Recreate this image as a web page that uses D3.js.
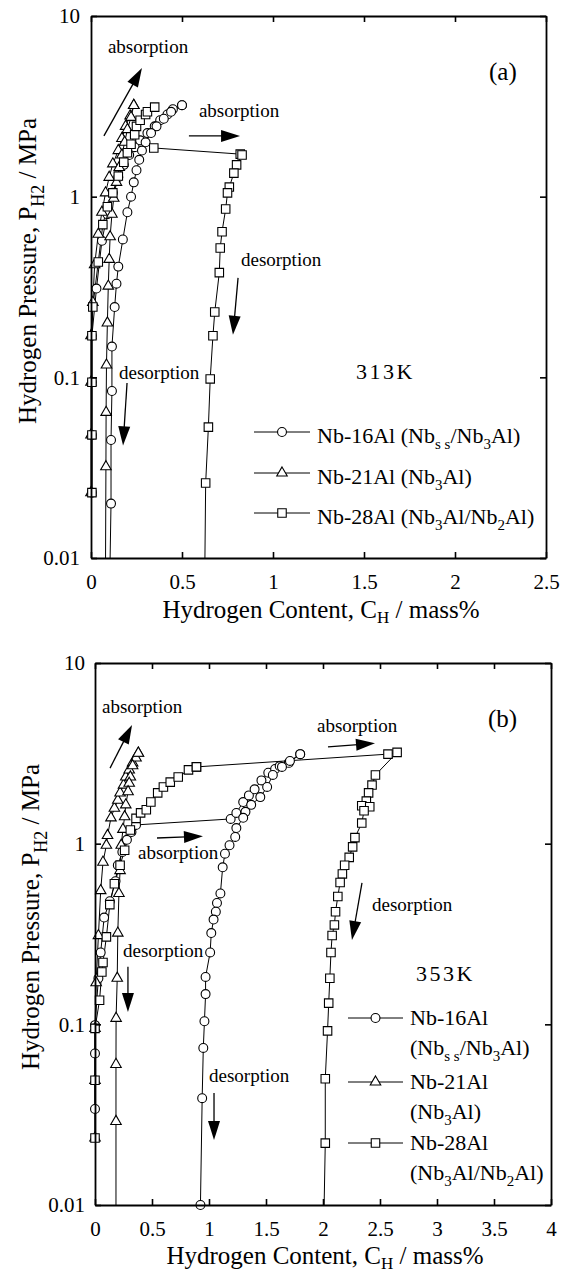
<!DOCTYPE html>
<html>
<head>
<meta charset="utf-8">
<script src="https://cdn.jsdelivr.net/npm/d3@7"></script>
<style>
  body { margin: 0; background: #fff; }
  svg { display: block; }
  svg text { font-family: "Liberation Serif", "Tinos", "DejaVu Serif", serif; fill: #000; }
</style>
</head>
<body>
<svg id="chart" width="569" height="1273" font-family="Liberation Serif, DejaVu Serif, serif"></svg>
<script>
// ---- panel (a), 313K : [C_H mass%, P_H2 MPa] ----
var a16Abs = [[0.005,0.023],[0.005,0.048],[0.005,0.094],[0.005,0.17],[0.03,0.31],[0.06,0.57],[0.09,0.80],[0.12,1.05],[0.15,1.28],[0.18,1.50],[0.21,1.70],[0.24,1.88],[0.27,2.05],[0.31,2.25],[0.35,2.45],[0.38,2.65],[0.42,2.85],[0.45,3.05],[0.50,3.21]];
var a16Des = [[0.50,3.21],[0.44,2.95],[0.40,2.70],[0.36,2.45],[0.33,2.25],[0.30,2.00],[0.28,1.80],[0.265,1.60],[0.25,1.40],[0.235,1.20],[0.22,1.00],[0.20,0.82],[0.175,0.58],[0.15,0.41],[0.14,0.33],[0.13,0.245],[0.115,0.148],[0.115,0.084],[0.11,0.045],[0.11,0.020]];
var a21Abs = [[0.0,0.023],[0.0,0.048],[0.0,0.094],[0.0,0.17],[0.01,0.26],[0.02,0.42],[0.04,0.62],[0.06,0.82],[0.08,1.05],[0.10,1.28],[0.12,1.52],[0.15,1.80],[0.17,2.10],[0.19,2.45],[0.215,2.80],[0.235,3.20]];
var a21Des = [[0.235,3.20],[0.22,2.75],[0.20,2.35],[0.185,2.00],[0.17,1.70],[0.155,1.45],[0.14,1.20],[0.125,0.98],[0.115,0.80],[0.105,0.60],[0.10,0.45],[0.095,0.32],[0.09,0.20],[0.085,0.117],[0.083,0.064],[0.082,0.032]];
var a28Abs = [[0.005,0.023],[0.005,0.048],[0.005,0.094],[0.005,0.17],[0.01,0.245],[0.04,0.435],[0.065,0.70],[0.09,0.88],[0.12,1.05],[0.15,1.30],[0.18,1.55],[0.20,1.75],[0.22,1.95],[0.24,2.20],[0.25,2.45],[0.27,2.65],[0.30,2.85],[0.31,2.95],[0.35,3.13]];
var a28Des = [[0.345,1.86],[0.82,1.72],[0.83,1.70],[0.80,1.50],[0.785,1.35],[0.76,1.13],[0.75,1.05],[0.74,0.855],[0.72,0.64],[0.71,0.52],[0.705,0.38],[0.68,0.23],[0.67,0.17],[0.655,0.098],[0.645,0.053],[0.63,0.026]];
var aTail = [0.105, 0.08, 0.626];   // C where each desorption line reaches 0.01 MPa

// ---- panel (b), 353K ----
var b16Abs = [[0.0,0.034],[0.0,0.069],[0.0,0.099],[0.03,0.18],[0.05,0.25],[0.08,0.39],[0.13,0.48],[0.18,0.62],[0.20,0.76],[0.24,0.90],[0.28,1.05],[0.32,1.16],[0.36,1.27],[1.19,1.37],[1.24,1.48],[1.30,1.70],[1.35,1.85],[1.40,2.00],[1.46,2.24],[1.52,2.47],[1.58,2.59],[1.62,2.69],[1.70,2.80],[1.80,3.13]];
var b16Des = [[1.80,3.13],[1.71,2.87],[1.64,2.66],[1.56,2.40],[1.51,2.06],[1.45,1.81],[1.37,1.64],[1.32,1.50],[1.30,1.39],[1.24,1.22],[1.23,1.09],[1.18,0.98],[1.14,0.88],[1.12,0.74],[1.10,0.53],[1.07,0.47],[1.06,0.42],[1.04,0.38],[1.02,0.32],[1.01,0.25],[0.97,0.183],[0.97,0.147],[0.96,0.104],[0.95,0.074],[0.94,0.039],[0.925,0.01]];
var b21Abs = [[0.0,0.0235],[0.0,0.049],[0.0,0.095],[0.01,0.17],[0.03,0.31],[0.05,0.55],[0.07,0.79],[0.10,0.98],[0.11,1.11],[0.14,1.39],[0.17,1.57],[0.20,1.74],[0.22,1.91],[0.25,2.11],[0.27,2.34],[0.30,2.56],[0.33,2.80],[0.36,2.98],[0.38,3.17]];
var b21Des = [[0.38,3.17],[0.33,2.70],[0.31,2.34],[0.30,2.16],[0.29,1.94],[0.27,1.64],[0.26,1.41],[0.245,1.20],[0.23,0.98],[0.22,0.71],[0.21,0.53],[0.20,0.32],[0.195,0.18],[0.185,0.108],[0.184,0.06],[0.184,0.029]];
var b28Abs = [[0.0,0.0235],[0.0,0.049],[0.0,0.095],[0.04,0.136],[0.06,0.195],[0.07,0.22],[0.10,0.305],[0.13,0.46],[0.17,0.60],[0.22,0.76],[0.26,0.92],[0.31,1.19],[0.36,1.38],[0.40,1.48],[0.45,1.54],[0.49,1.70],[0.55,1.91],[0.60,2.06],[0.66,2.19],[0.73,2.34],[0.82,2.56],[0.89,2.66]];
var b28Des = [[0.89,2.66],[2.57,3.13],[2.65,3.20],[2.46,2.40],[2.43,2.11],[2.40,1.91],[2.38,1.72],[2.34,1.62],[2.41,1.60],[2.36,1.52],[2.34,1.30],[2.28,1.08],[2.26,0.96],[2.23,0.84],[2.19,0.76],[2.17,0.68],[2.15,0.61],[2.13,0.51],[2.11,0.42],[2.10,0.355],[2.08,0.31],[2.07,0.25],[2.06,0.18],[2.05,0.131],[2.04,0.092],[2.02,0.050],[2.02,0.022]];
var bTail = [null, 0.184, 2.01];

// ticks
var yTicks = [0.01, 0.1, 1, 10];
var yTickLabels = ["0.01", "0.1", "1", "10"];
var aXTicks = [0, 0.5, 1, 1.5, 2, 2.5];
var aXTickLabels = ["0", "0.5", "1", "1.5", "2", "2.5"];
var bXTicks = [0, 0.5, 1, 1.5, 2, 2.5, 3, 3.5, 4];
var bXTickLabels = ["0", "0.5", "1", "1.5", "2", "2.5", "3", "3.5", "4"];

// legend / annotation text
var aLegend = ["Nb-16Al (Nb_{s s}/Nb_{3}Al)", "Nb-21Al (Nb_{3}Al)", "Nb-28Al (Nb_{3}Al/Nb_{2}Al)"];
var bLegend = [["Nb-16Al", "(Nb_{s s}/Nb_{3}Al)"], ["Nb-21Al", "(Nb_{3}Al)"], ["Nb-28Al", "(Nb_{3}Al/Nb_{2}Al)"]];
var aNotes = [["absorption",0.093,6.24],["absorption",0.593,2.76],["desorption",0.824,0.413],["desorption",0.154,0.098]];
var aArrows = [[0.071,2.17,0.28,5.15],[0.538,2.17,0.819,2.17],[0.808,0.355,0.780,0.172],[0.198,0.093,0.176,0.042]];
var bNotes = [["absorption",0.061,5.28],["absorption",1.947,4.15],["absorption",0.377,0.823],["desorption",2.43,0.425],["desorption",0.246,0.236],["desorption",1.0,0.048]];
var bArrows = [[0.132,2.62,0.325,4.54],[2.044,3.43,2.456,3.6],[0.544,1.075,0.947,1.10],[2.342,0.606,2.254,0.293],[0.289,0.208,0.289,0.117],[1.044,0.0417,1.044,0.0229]];

var symbols = [d3.symbolCircle, d3.symbolTriangle, d3.symbolSquare];
var symSizes = [62, 48, 72];
var FONT = "Liberation Serif, DejaVu Serif, serif";

var svg = d3.select("#chart");

// text with _{...} subscripts
function rich(sel, str, size, subSize, shift) {
  var down = false;
  str.split(/(_\{[^}]*\})/).forEach(function (t) {
    if (!t) return;
    var sub = t.charAt(0) == "_";
    var ts = sel.append("tspan").text(sub ? t.slice(2, -1) : t).attr("font-size", sub ? subSize : size);
    if (sub && !down) { ts.attr("dy", shift); down = true; }
    else if (!sub && down) { ts.attr("dy", -shift); down = false; }
  });
}

function marker(g, i, cx, cy) {
  g.append("path")
    .attr("d", d3.symbol().type(symbols[i]).size(symSizes[i])())
    .attr("transform", "translate(" + cx + "," + cy + ")")
    .attr("fill", "#fff").attr("stroke", "#000").attr("stroke-width", 1.1);
}

function arrow(g, x1, y1, x2, y2) {
  var dx = x2 - x1, dy = y2 - y1, len = Math.sqrt(dx * dx + dy * dy);
  var ux = dx / len, uy = dy / len, hl = 19, hw = 6;
  var bx = x2 - ux * hl, by = y2 - uy * hl;
  g.append("line").attr("x1", x1).attr("y1", y1).attr("x2", bx + ux * 2).attr("y2", by + uy * 2)
    .attr("stroke", "#000").attr("stroke-width", 1.3);
  g.append("path")
    .attr("d", "M" + x2 + "," + y2 + "L" + (bx - uy * hw) + "," + (by + ux * hw) + "L" + (bx + uy * hw) + "," + (by - ux * hw) + "Z")
    .attr("fill", "#000");
}

function drawPanel(p) {
  var x = d3.scaleLinear().domain([0, p.xMax]).range([p.left, p.right]);
  var y = d3.scaleLog().domain([0.01, 10]).range([p.bottom, p.top]);
  var g = svg.append("g").attr("font-family", FONT);
  var line = d3.line().x(function (d) { return x(d[0]); }).y(function (d) { return y(d[1]); });

  // curves
  p.series.forEach(function (s, i) {
    g.append("path").attr("d", line(s[0])).attr("fill", "none").attr("stroke", "#000").attr("stroke-width", 1);
    var des = s[1].slice();
    if (p.tails[i] != null) des.push([p.tails[i], 0.01]);
    g.append("path").attr("d", line(des)).attr("fill", "none").attr("stroke", "#000").attr("stroke-width", 1);
  });
  p.series.forEach(function (s, i) {
    s[0].concat(s[1]).forEach(function (d) { marker(g, i, x(d[0]), y(d[1])); });
  });

  // axes, ticks pointing inward
  var ax = [
    [d3.axisBottom(x).tickValues(p.xTicks).tickFormat(function (d, i) { return p.xLabels[i]; }).tickPadding(16), "translate(0," + p.bottom + ")"],
    [d3.axisTop(x).tickValues(p.xTicks).tickFormat(""), "translate(0," + p.top + ")"],
    [d3.axisLeft(y).tickValues(yTicks).tickFormat(function (d, i) { return yTickLabels[i]; }).tickPadding(p.yPad), "translate(" + p.left + ",0)"],
    [d3.axisRight(y).tickValues(yTicks).tickFormat(""), "translate(" + p.right + ",0)"]
  ];
  ax.forEach(function (a) {
    var ag = g.append("g").attr("transform", a[1]).call(a[0].tickSizeInner(-6).tickSizeOuter(0));
    ag.attr("font-family", FONT).attr("font-size", 21);
    ag.select(".domain").attr("stroke-width", 1.8);
    ag.selectAll(".tick line").attr("stroke-width", 1.6);
  });

  // axis titles
  var yt = g.append("text").attr("transform", "translate(" + p.yTitle[0] + "," + p.yTitle[1] + ") rotate(-90)")
    .attr("text-anchor", "middle");
  rich(yt, "Hydrogen Pressure, P_{H2} / MPa", 25, 18, 8);
  var xt = g.append("text").attr("x", p.xTitle[0]).attr("y", p.xTitle[1]).attr("text-anchor", "middle");
  rich(xt, "Hydrogen Content, C_{H} / mass%", 25, 17, 5);

  // annotations
  p.notes.forEach(function (n) {
    g.append("text").attr("x", x(n[1])).attr("y", y(n[2])).attr("font-size", 19).text(n[0]);
  });
  p.arrows.forEach(function (a) { arrow(g, x(a[0]), y(a[1]), x(a[2]), y(a[3])); });
  g.append("text").attr("x", x(p.tag[1])).attr("y", y(p.tag[2])).attr("font-size", 25).text(p.tag[0]);
  g.append("text").attr("x", x(p.temp[1])).attr("y", y(p.temp[2])).attr("font-size", 22)
    .attr("letter-spacing", 2.5).text(p.temp[0]);

  // legend
  p.legend.forEach(function (lab, i) {
    var ly = p.leg.y[i];
    g.append("line").attr("x1", p.leg.x1).attr("x2", p.leg.x2).attr("y1", ly).attr("y2", ly)
      .attr("stroke", "#000").attr("stroke-width", 1);
    marker(g, i, (p.leg.x1 + p.leg.x2) / 2, ly);
    var rows = typeof lab == "string" ? [lab] : lab;
    rows.forEach(function (r, k) {
      var t = g.append("text").attr("x", p.leg.tx).attr("y", ly + p.leg.dy + k * 30);
      rich(t, r, 22, 15, 6);
    });
  });
}

drawPanel({
  left: 91, right: 546, top: 16, bottom: 558, xMax: 2.5,
  xTicks: aXTicks, xLabels: aXTickLabels, yPad: 11,
  series: [[a16Abs, a16Des], [a21Abs, a21Des], [a28Abs, a28Des]], tails: aTail,
  yTitle: [36, 271], xTitle: [321, 618],
  notes: aNotes, arrows: aArrows, tag: ["(a)", 2.187, 4.43], temp: ["313K", 1.456, 0.098],
  legend: aLegend, leg: { x1: 254, x2: 310, tx: 317, dy: 11, y: [432, 473, 513] }
});

drawPanel({
  left: 95, right: 551, top: 663, bottom: 1205, xMax: 4,
  xTicks: bXTicks, xLabels: bXTickLabels, yPad: 10,
  series: [[b16Abs, b16Des], [b21Abs, b21Des], [b28Abs, b28Des]], tails: bTail,
  yTitle: [39, 917], xTitle: [325, 1264],
  notes: bNotes, arrows: bArrows, tag: ["(b)", 3.447, 4.43], temp: ["353K", 2.816, 0.174],
  legend: bLegend, leg: { x1: 348, x2: 403, tx: 410, dy: 7, y: [1018, 1082, 1143] }
});
</script>
</body>
</html>
